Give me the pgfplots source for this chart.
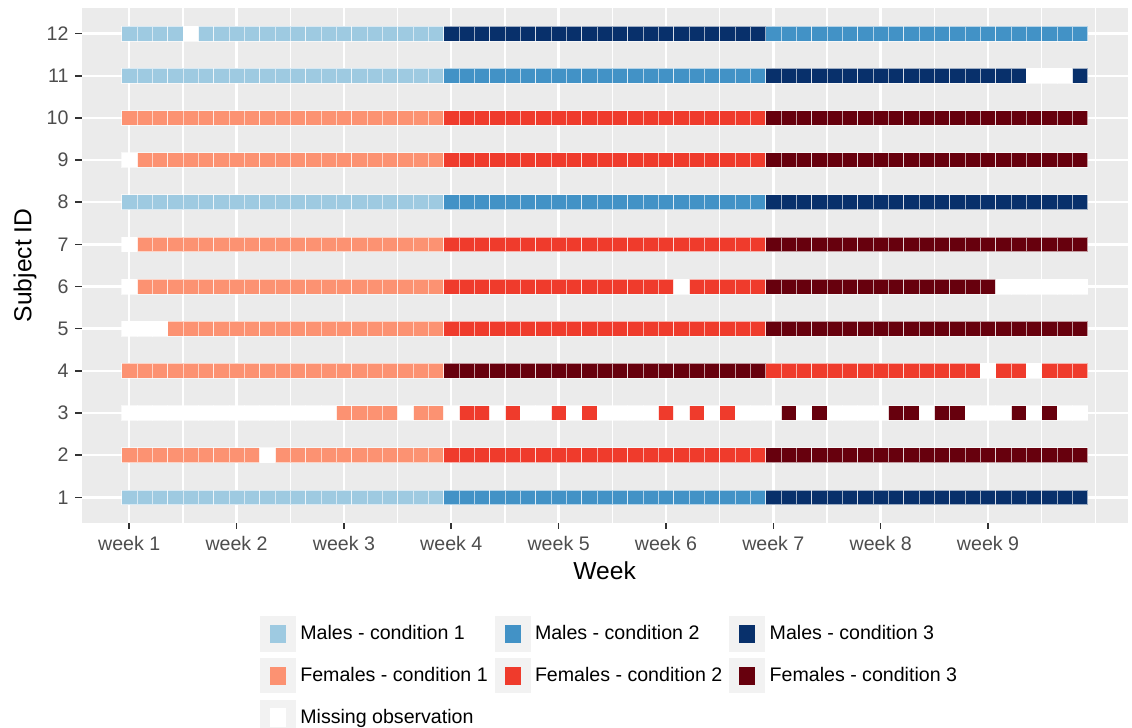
\documentclass[border=0pt]{standalone}
\usepackage{pgfplots}
\pgfplotsset{compat=1.18}
\usepackage{fontspec}
\setmainfont{Liberation Sans}
\definecolor{mA}{HTML}{9ECAE1}
\definecolor{mB}{HTML}{4292C6}
\definecolor{mC}{HTML}{08306B}
\definecolor{fA}{HTML}{FC9272}
\definecolor{fB}{HTML}{EF3B2C}
\definecolor{fC}{HTML}{67000D}
\definecolor{panel}{HTML}{EBEBEB}
\definecolor{keybg}{HTML}{F2F2F2}
\definecolor{ticklab}{HTML}{4D4D4D}
\definecolor{tickcol}{HTML}{333333}
\pgfdeclareplotmark{tile}{%
  \pgfpathrectangle{\pgfpoint{-3.834pt}{-3.69pt}}{\pgfpoint{7.668pt}{7.38pt}}%
  \pgfusepathqfillstroke}
\newcommand{\keyimg}[1]{%
  \fill[keybg] (0pt,-8.6pt) rectangle (17.5pt,8.6pt);
  \fill[#1] (5pt,-4.3pt) rectangle (12.5pt,4.3pt);}
\begin{document}
\begin{tikzpicture}[x=1pt,y=1pt]
\useasboundingbox (0,0) rectangle (566,364);
\begin{axis}[
  at={(40.85pt,102.7pt)}, anchor=south west,
  scale only axis, width=522.95pt, height=257.15pt,
  xmin=-2.1, xmax=66.1, ymin=0.4, ymax=12.6,
  axis background/.style={fill=panel},
  axis line style={draw=none},
  xtick={1,8,15,22,29,36,43,50,57},
  xticklabels={week 1,week 2,week 3,week 4,week 5,week 6,week 7,week 8,week 9},
  minor xtick={4.5,11.5,18.5,25.5,32.5,39.5,46.5,53.5,60.5,64},
  ytick={1,2,3,4,5,6,7,8,9,10,11,12},
  yticklabels={1,2,3,4,5,6,7,8,9,10,11,12},
  grid=both,
  major grid style={white, line width=1.2pt},
  minor grid style={white, line width=0.6pt},
  tick align=outside, tick pos=left,
  major tick length=3.1pt, minor tick length=0pt,
  tick style={tickcol, line width=0.8pt},
  ticklabel style={font=\fontsize{9.8}{11}\selectfont, text=ticklab},
  xlabel={Week}, ylabel={Subject ID},
  label style={font=\fontsize{12.3}{14}\selectfont, text=black},
  xlabel style={at={(axis description cs:0.5,-0.0941)}, anchor=center},
  ylabel style={at={(axis description cs:-0.0542,0.5)}, anchor=center},
  legend columns=3,
  legend cell align=left,
  legend style={at={(axis description cs:0.1705,-0.1820)}, anchor=north west,
    draw=none, fill=none, inner sep=0pt, outer sep=0pt,
    font=\fontsize{9.8}{11}\selectfont,
    nodes={inner sep=0.5pt},
    row sep=3.3pt,
    /tikz/every odd column/.append style={column sep=1.75pt},
    /tikz/every even column/.append style={column sep=3pt}},
  tiles/.style={only marks, mark=tile, mark options={fill=#1, draw=white, draw opacity=0.6, line width=0.35pt},
    legend image code/.code={\keyimg{#1}}},
]
% Males - condition 1
\addplot[tiles=mA] coordinates {
(1,1)(2,1)(3,1)(4,1)(5,1)(6,1)(7,1)(8,1)(9,1)(10,1)(11,1)(12,1)(13,1)(14,1)(15,1)(16,1)(17,1)(18,1)(19,1)(20,1)(21,1)
(1,8)(2,8)(3,8)(4,8)(5,8)(6,8)(7,8)(8,8)(9,8)(10,8)(11,8)(12,8)(13,8)(14,8)(15,8)(16,8)(17,8)(18,8)(19,8)(20,8)(21,8)
(1,11)(2,11)(3,11)(4,11)(5,11)(6,11)(7,11)(8,11)(9,11)(10,11)(11,11)(12,11)(13,11)(14,11)(15,11)(16,11)(17,11)(18,11)(19,11)(20,11)(21,11)
(1,12)(2,12)(3,12)(4,12)(6,12)(7,12)(8,12)(9,12)(10,12)(11,12)(12,12)(13,12)(14,12)(15,12)(16,12)(17,12)(18,12)(19,12)(20,12)(21,12)
};
\addlegendentry{Males - condition 1}
% Males - condition 2
\addplot[tiles=mB] coordinates {
(22,1)(23,1)(24,1)(25,1)(26,1)(27,1)(28,1)(29,1)(30,1)(31,1)(32,1)(33,1)(34,1)(35,1)(36,1)(37,1)(38,1)(39,1)(40,1)(41,1)(42,1)
(22,8)(23,8)(24,8)(25,8)(26,8)(27,8)(28,8)(29,8)(30,8)(31,8)(32,8)(33,8)(34,8)(35,8)(36,8)(37,8)(38,8)(39,8)(40,8)(41,8)(42,8)
(22,11)(23,11)(24,11)(25,11)(26,11)(27,11)(28,11)(29,11)(30,11)(31,11)(32,11)(33,11)(34,11)(35,11)(36,11)(37,11)(38,11)(39,11)(40,11)(41,11)(42,11)
(43,12)(44,12)(45,12)(46,12)(47,12)(48,12)(49,12)(50,12)(51,12)(52,12)(53,12)(54,12)(55,12)(56,12)(57,12)(58,12)(59,12)(60,12)(61,12)(62,12)(63,12)
};
\addlegendentry{Males - condition 2}
% Males - condition 3
\addplot[tiles=mC] coordinates {
(43,1)(44,1)(45,1)(46,1)(47,1)(48,1)(49,1)(50,1)(51,1)(52,1)(53,1)(54,1)(55,1)(56,1)(57,1)(58,1)(59,1)(60,1)(61,1)(62,1)(63,1)
(43,8)(44,8)(45,8)(46,8)(47,8)(48,8)(49,8)(50,8)(51,8)(52,8)(53,8)(54,8)(55,8)(56,8)(57,8)(58,8)(59,8)(60,8)(61,8)(62,8)(63,8)
(43,11)(44,11)(45,11)(46,11)(47,11)(48,11)(49,11)(50,11)(51,11)(52,11)(53,11)(54,11)(55,11)(56,11)(57,11)(58,11)(59,11)(63,11)
(22,12)(23,12)(24,12)(25,12)(26,12)(27,12)(28,12)(29,12)(30,12)(31,12)(32,12)(33,12)(34,12)(35,12)(36,12)(37,12)(38,12)(39,12)(40,12)(41,12)(42,12)
};
\addlegendentry{Males - condition 3}
% Females - condition 1
\addplot[tiles=fA] coordinates {
(1,2)(2,2)(3,2)(4,2)(5,2)(6,2)(7,2)(8,2)(9,2)(11,2)(12,2)(13,2)(14,2)(15,2)(16,2)(17,2)(18,2)(19,2)(20,2)(21,2)
(15,3)(16,3)(17,3)(18,3)(20,3)(21,3)
(1,4)(2,4)(3,4)(4,4)(5,4)(6,4)(7,4)(8,4)(9,4)(10,4)(11,4)(12,4)(13,4)(14,4)(15,4)(16,4)(17,4)(18,4)(19,4)(20,4)(21,4)
(4,5)(5,5)(6,5)(7,5)(8,5)(9,5)(10,5)(11,5)(12,5)(13,5)(14,5)(15,5)(16,5)(17,5)(18,5)(19,5)(20,5)(21,5)
(2,6)(3,6)(4,6)(5,6)(6,6)(7,6)(8,6)(9,6)(10,6)(11,6)(12,6)(13,6)(14,6)(15,6)(16,6)(17,6)(18,6)(19,6)(20,6)(21,6)
(2,7)(3,7)(4,7)(5,7)(6,7)(7,7)(8,7)(9,7)(10,7)(11,7)(12,7)(13,7)(14,7)(15,7)(16,7)(17,7)(18,7)(19,7)(20,7)(21,7)
(2,9)(3,9)(4,9)(5,9)(6,9)(7,9)(8,9)(9,9)(10,9)(11,9)(12,9)(13,9)(14,9)(15,9)(16,9)(17,9)(18,9)(19,9)(20,9)(21,9)
(1,10)(2,10)(3,10)(4,10)(5,10)(6,10)(7,10)(8,10)(9,10)(10,10)(11,10)(12,10)(13,10)(14,10)(15,10)(16,10)(17,10)(18,10)(19,10)(20,10)(21,10)
};
\addlegendentry{Females - condition 1}
% Females - condition 2
\addplot[tiles=fB] coordinates {
(22,2)(23,2)(24,2)(25,2)(26,2)(27,2)(28,2)(29,2)(30,2)(31,2)(32,2)(33,2)(34,2)(35,2)(36,2)(37,2)(38,2)(39,2)(40,2)(41,2)(42,2)
(23,3)(24,3)(26,3)(29,3)(31,3)(36,3)(38,3)(40,3)
(43,4)(44,4)(45,4)(46,4)(47,4)(48,4)(49,4)(50,4)(51,4)(52,4)(53,4)(54,4)(55,4)(56,4)(58,4)(59,4)(61,4)(62,4)(63,4)
(22,5)(23,5)(24,5)(25,5)(26,5)(27,5)(28,5)(29,5)(30,5)(31,5)(32,5)(33,5)(34,5)(35,5)(36,5)(37,5)(38,5)(39,5)(40,5)(41,5)(42,5)
(22,6)(23,6)(24,6)(25,6)(26,6)(27,6)(28,6)(29,6)(30,6)(31,6)(32,6)(33,6)(34,6)(35,6)(36,6)(38,6)(39,6)(40,6)(41,6)(42,6)
(22,7)(23,7)(24,7)(25,7)(26,7)(27,7)(28,7)(29,7)(30,7)(31,7)(32,7)(33,7)(34,7)(35,7)(36,7)(37,7)(38,7)(39,7)(40,7)(41,7)(42,7)
(22,9)(23,9)(24,9)(25,9)(26,9)(27,9)(28,9)(29,9)(30,9)(31,9)(32,9)(33,9)(34,9)(35,9)(36,9)(37,9)(38,9)(39,9)(40,9)(41,9)(42,9)
(22,10)(23,10)(24,10)(25,10)(26,10)(27,10)(28,10)(29,10)(30,10)(31,10)(32,10)(33,10)(34,10)(35,10)(36,10)(37,10)(38,10)(39,10)(40,10)(41,10)(42,10)
};
\addlegendentry{Females - condition 2}
% Females - condition 3
\addplot[tiles=fC] coordinates {
(43,2)(44,2)(45,2)(46,2)(47,2)(48,2)(49,2)(50,2)(51,2)(52,2)(53,2)(54,2)(55,2)(56,2)(57,2)(58,2)(59,2)(60,2)(61,2)(62,2)(63,2)
(44,3)(46,3)(51,3)(52,3)(54,3)(55,3)(59,3)(61,3)
(22,4)(23,4)(24,4)(25,4)(26,4)(27,4)(28,4)(29,4)(30,4)(31,4)(32,4)(33,4)(34,4)(35,4)(36,4)(37,4)(38,4)(39,4)(40,4)(41,4)(42,4)
(43,5)(44,5)(45,5)(46,5)(47,5)(48,5)(49,5)(50,5)(51,5)(52,5)(53,5)(54,5)(55,5)(56,5)(57,5)(58,5)(59,5)(60,5)(61,5)(62,5)(63,5)
(43,6)(44,6)(45,6)(46,6)(47,6)(48,6)(49,6)(50,6)(51,6)(52,6)(53,6)(54,6)(55,6)(56,6)(57,6)
(43,7)(44,7)(45,7)(46,7)(47,7)(48,7)(49,7)(50,7)(51,7)(52,7)(53,7)(54,7)(55,7)(56,7)(57,7)(58,7)(59,7)(60,7)(61,7)(62,7)(63,7)
(43,9)(44,9)(45,9)(46,9)(47,9)(48,9)(49,9)(50,9)(51,9)(52,9)(53,9)(54,9)(55,9)(56,9)(57,9)(58,9)(59,9)(60,9)(61,9)(62,9)(63,9)
(43,10)(44,10)(45,10)(46,10)(47,10)(48,10)(49,10)(50,10)(51,10)(52,10)(53,10)(54,10)(55,10)(56,10)(57,10)(58,10)(59,10)(60,10)(61,10)(62,10)(63,10)
};
\addlegendentry{Females - condition 3}
% Missing observation
\addplot[tiles=white] coordinates {
(10,2)
(1,3)(2,3)(3,3)(4,3)(5,3)(6,3)(7,3)(8,3)(9,3)(10,3)(11,3)(12,3)(13,3)(14,3)(19,3)(22,3)(25,3)(27,3)(28,3)(30,3)(32,3)(33,3)(34,3)(35,3)(37,3)(39,3)(41,3)(42,3)(43,3)(45,3)(47,3)(48,3)(49,3)(50,3)(53,3)(56,3)(57,3)(58,3)(60,3)(62,3)(63,3)
(57,4)(60,4)
(1,5)(2,5)(3,5)
(1,6)(37,6)(58,6)(59,6)(60,6)(61,6)(62,6)(63,6)
(1,7)
(1,9)
(60,11)(61,11)(62,11)
(5,12)
};
\addlegendentry{Missing observation}
\end{axis}
\end{tikzpicture}
\end{document}
